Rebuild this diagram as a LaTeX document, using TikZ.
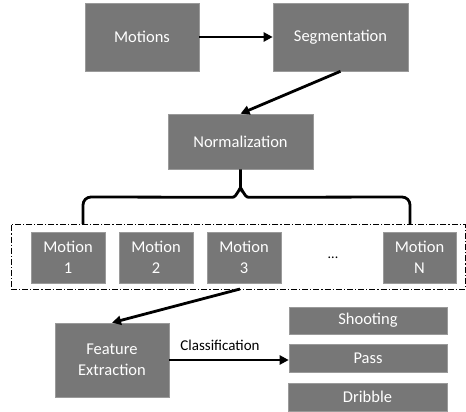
\documentclass[tikz,border=0pt]{standalone}
\usepackage{fontspec}
\setmainfont{Carlito}
\usetikzlibrary{arrows.meta}
\definecolor{boxgray}{HTML}{777777}
\definecolor{boxedge}{HTML}{9A9A9A}
\begin{document}
\begin{tikzpicture}[x=1pt,y=-1pt,
  gbox/.style={rectangle, fill=boxgray, draw=boxedge, line width=0.6pt, text=white,
    font=\fontsize{16.5}{20.5}\selectfont, align=center, inner sep=0pt},
  arr/.style={line width=2.8pt, -{Triangle[length=9pt,width=9pt]}},
  brace/.style={line width=2.8pt},
  groupbox/.style={draw=black, line width=0.8pt, dash pattern=on 6pt off 2pt on 1.2pt off 2pt}]
\useasboundingbox (0,0) rectangle (466,412);
% top row
\node[gbox, minimum width=114pt, minimum height=68pt] (mot) at (142,37) {Motions};
\node[gbox, minimum width=135pt, minimum height=68pt] (seg) at (340.5,37) {Segmentation};
\node[gbox, minimum width=145pt, minimum height=55pt] (norm) at (240.5,141.5) {Normalization};
% group
\node[groupbox, minimum width=454pt, minimum height=65pt] (grp) at (238,256.5) {};
\node[gbox, minimum width=74pt, minimum height=51pt] (m1) at (68,257.5) {Motion\\1};
\node[gbox, minimum width=74pt, minimum height=51pt] (m2) at (156,257.5) {Motion\\2};
\node[gbox, minimum width=74pt, minimum height=51pt] (m3) at (244,257.5) {Motion\\3};
\node[font=\fontsize{14}{16}\selectfont] (dots) at (333,258) {...};
\node[gbox, minimum width=73pt, minimum height=51pt] (mN) at (419.5,257.5) {Motion\\N};
% bottom
\node[gbox, minimum width=114pt, minimum height=74pt] (feat) at (112,360) {Feature\\Extraction};
\node[gbox, minimum width=158pt, minimum height=27pt] (shoot) at (368,320.5) {Shooting};
\node[gbox, minimum width=158pt, minimum height=28pt] (pass) at (368,358) {Pass};
\node[gbox, minimum width=159pt, minimum height=28pt] (drib) at (367.5,397) {Dribble};
% connectors
\draw[arr] (mot.east) -- (seg.west);
\draw[arr] (seg.south) -- (norm.north);
\coordinate (gout) at (240,289);
\draw[arr] (gout) -- (feat.north);
\draw[arr] (feat.east) -- (feat.east -| pass.west)
  node[midway, above=5pt, xshift=-9pt, text=black, font=\fontsize{15}{18}\selectfont] (cls) {Classification};
% brace
\coordinate (bl) at (83,224);
\coordinate (br) at (410,224);
\draw[brace] (norm.south) -- ++(0,20) to[out=90,in=0] ++(-8,8) -- (91,197)
  to[out=180,in=90] (83,205) -- (bl);
\draw[brace] (norm.south) ++(0,20) to[out=90,in=180] ++(8,8) -- (402,197)
  to[out=0,in=90] (410,205) -- (br);
\end{tikzpicture}
\end{document}
